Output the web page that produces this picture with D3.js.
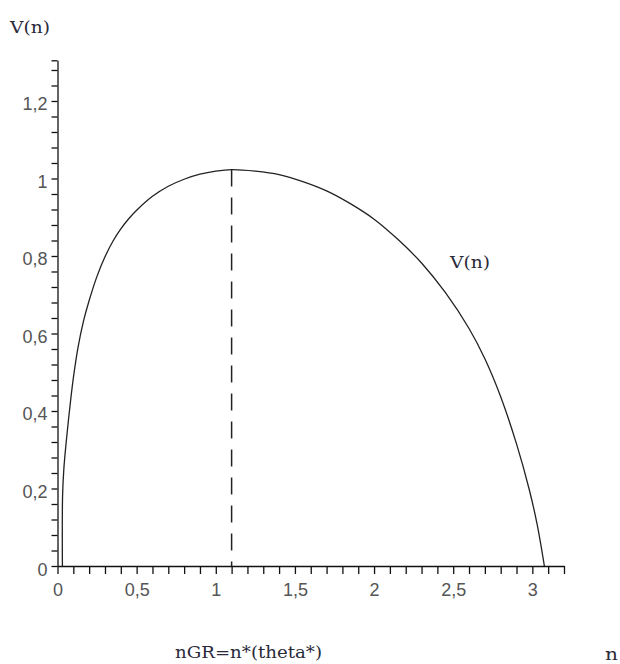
<!DOCTYPE html>
<html>
<head>
<meta charset="utf-8">
<script src="https://cdn.jsdelivr.net/npm/d3@7"></script>
<style>
  html, body { margin: 0; padding: 0; background: #fff; }
  svg { display: block; }
</style>
</head>
<body>
<svg id="chart" width="620" height="664"></svg>
<script>
// ---- data ----
const nValues = [0.031, 0.032, 0.040, 0.055, 0.070, 0.085, 0.100, 0.130, 0.165, 0.200, 0.250, 0.300,
  0.350, 0.400, 0.450, 0.500, 0.600, 0.700, 0.800, 0.900, 1.000, 1.100, 1.250, 1.400, 1.550,
  1.700, 1.850, 2.000, 2.150, 2.300, 2.450, 2.600, 2.700, 2.800, 2.900, 2.980, 3.030, 3.076];
const vValues = [0.000, 0.180, 0.250, 0.320, 0.380, 0.435, 0.485, 0.565, 0.633, 0.685, 0.748, 0.798,
  0.838, 0.870, 0.896, 0.918, 0.954, 0.980, 0.998, 1.011, 1.019, 1.023, 1.019, 1.010, 0.992,
  0.968, 0.935, 0.895, 0.843, 0.782, 0.706, 0.613, 0.535, 0.437, 0.315, 0.198, 0.108, 0.000];
const nGR = 1.10;          // dashed marker position
const vAtGR = 1.023;       // value of V at nGR
const xLabelTicks = [0, 0.5, 1, 1.5, 2, 2.5, 3];
const xLabelText = ["0", "0,5", "1", "1,5", "2", "2,5", "3"];
const yLabelTicks = [0, 0.2, 0.4, 0.6, 0.8, 1, 1.2];
const yLabelText = ["0", "0,2", "0,4", "0,6", "0,8", "1", "1,2"];
const xDomain = [0, 3.2];
const yDomain = [0, 1.305];

// ---- layout ----
const svg = d3.select("#chart");
const x = d3.scaleLinear().domain(xDomain).range([57.5, 564]);
const y = d3.scaleLinear().domain(yDomain).range([566, 60.3]);

const xMinor = d3.range(0, 32 + 1).map(i => i / 10);
const yMinor = d3.range(0, 32 + 1).map(i => i * 0.04).concat([yDomain[1]]);

const xLabelMap = new Map(xLabelTicks.map((v, i) => [v.toFixed(2), xLabelText[i]]));
const yLabelMap = new Map(yLabelTicks.map((v, i) => [v.toFixed(2), yLabelText[i]]));

const xAxis = d3.axisBottom(x).tickValues(xMinor).tickSize(8).tickSizeOuter(0)
  .tickFormat(d => xLabelMap.get(d.toFixed(2)) || "");
const yAxis = d3.axisLeft(y).tickValues(yMinor).tickSize(6).tickSizeOuter(0)
  .tickFormat(d => yLabelMap.get(d.toFixed(2)) || "");

const gx = svg.append("g").attr("transform", `translate(0,${y(0)})`).call(xAxis);
const gy = svg.append("g").attr("transform", `translate(${x(0)},0)`).call(yAxis);

[gx, gy].forEach(g => {
  g.select(".domain").attr("stroke", "#111").attr("stroke-width", 1.3);
  g.selectAll(".tick line").attr("stroke", "#111").attr("stroke-width", 1.3);
  g.selectAll(".tick text")
    .attr("fill", "#555")
    .style("font-family", "'Liberation Sans', Arial, sans-serif")
    .style("font-size", "18px");
});
gx.selectAll(".tick text").attr("y", 17).attr("dy", "0.71em");
gy.selectAll(".tick text").attr("x", -10).attr("dy", "0.5em");

// ---- curve ----
const pts = nValues.map((n, i) => [n, vValues[i]]);
const line = d3.line().x(d => x(d[0])).y(d => y(d[1])).curve(d3.curveCatmullRom.alpha(0.5));
svg.append("path").datum(pts)
  .attr("d", line)
  .attr("fill", "none")
  .attr("stroke", "#222")
  .attr("stroke-width", 1.3);

// ---- dashed marker ----
svg.append("line")
  .attr("x1", x(nGR)).attr("x2", x(nGR))
  .attr("y1", y(vAtGR)).attr("y2", y(0))
  .attr("stroke", "#222").attr("stroke-width", 1.5)
  .attr("stroke-dasharray", "17,11");

// ---- texts ----
const serif = "'DejaVu Serif', 'Liberation Serif', serif";
function label(txt, px, py, len) {
  const t = svg.append("text").attr("x", px).attr("y", py)
    .attr("fill", "#2a2a3a")
    .style("font-family", serif).style("font-size", "17px")
    .text(txt);
  if (len) t.attr("textLength", len).attr("lengthAdjust", "spacingAndGlyphs");
  return t;
}
label("V(n)", 10, 33, 40);
label("V(n)", 450, 268, 40);
label("nGR=n*(theta*)", 175, 658, 147);
label("n", 605, 660, 13);
</script>
</body>
</html>
